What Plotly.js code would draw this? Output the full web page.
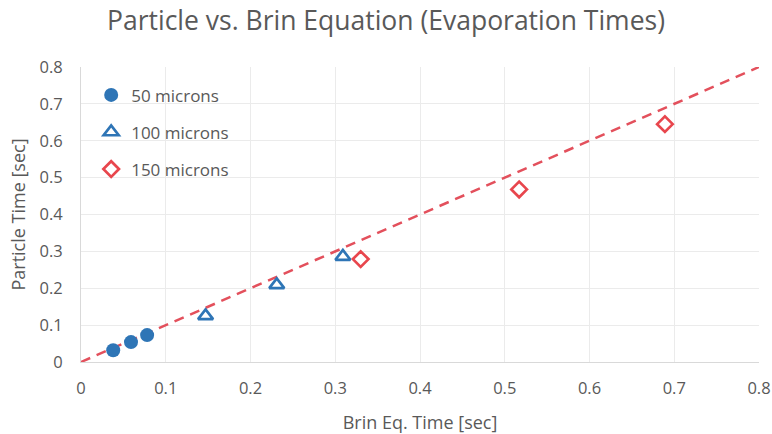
<!DOCTYPE html>
<html>
<head>
<meta charset="utf-8">
<script src="https://cdn.plot.ly/plotly-3.0.1.min.js"></script>
<style>
  html, body { margin: 0; padding: 0; background: #ffffff; }
  #chart { width: 772px; height: 434px; }
</style>
</head>
<body>
<div id="chart"></div>
<script>
// Evaporation times: particle model vs. Brin equation, by droplet size
const brin50 = [0.038, 0.059, 0.078];
const particle50 = [0.032, 0.054, 0.073];

const brin100 = [0.147, 0.231, 0.309];
const particle100 = [0.125, 0.209, 0.286];

const brin150 = [0.330, 0.517, 0.689];
const particle150 = [0.279, 0.468, 0.645];

// 1:1 reference line
const parityX = [0, 0.8];
const parityY = [0, 0.8];

const labels = ["50 microns", "100 microns", "150 microns"];
const axisTicks = [0, 0.1, 0.2, 0.3, 0.4, 0.5, 0.6, 0.7, 0.8];

const textColor = "#595959";
const blue = "#2e75b6";
const red = "#e8464d";
const fontFamily = "Open Sans, sans-serif";

const traces = [
  {
    x: parityX, y: parityY, type: "scatter", mode: "lines",
    line: { color: "#e3505c", width: 2.5, dash: "10px,7px" },
    showlegend: false, hoverinfo: "skip"
  },
  {
    x: brin50, y: particle50, type: "scatter", mode: "markers", name: labels[0],
    legendgroup: "a",
    marker: { symbol: "circle", size: 14, color: blue }
  },
  {
    x: brin100, y: particle100, type: "scatter", mode: "markers", name: labels[1],
    legendgroup: "b",
    marker: { symbol: "triangle-up-open", size: 13, color: blue, line: { color: blue, width: 2.7 } }
  },
  {
    x: brin150, y: particle150, type: "scatter", mode: "markers", name: labels[2],
    legendgroup: "c",
    marker: { symbol: "diamond-open", size: 12, color: red, line: { color: red, width: 2.7 } }
  }
];

const axisCommon = {
  range: [0, 0.8],
  tickvals: axisTicks,
  ticktext: axisTicks.map(v => v === 0 ? "0" : String(v)),
  showgrid: true,
  gridcolor: "#ebebeb",
  gridwidth: 1,
  zeroline: false,
  showline: true,
  linecolor: "#d9d9d9",
  linewidth: 1,
  ticks: "",
  tickfont: { family: fontFamily, size: 16.5, color: textColor },
  fixedrange: true
};

const layout = {
  width: 772,
  height: 434,
  margin: { l: 81, r: 13, t: 67, b: 72 },
  paper_bgcolor: "#ffffff",
  plot_bgcolor: "#ffffff",
  title: {
    text: "Particle vs. Brin Equation (Evaporation Times)",
    font: { family: fontFamily, size: 26.5, color: textColor },
    x: 0.5, xanchor: "center", y: 0.953, yanchor: "middle"
  },
  xaxis: Object.assign({}, axisCommon, {
    title: { text: "Brin Eq. Time [sec]", font: { family: fontFamily, size: 18, color: textColor }, standoff: 18 },
    ticklabelstandoff: 11
  }),
  yaxis: Object.assign({}, axisCommon, {
    title: { text: "Particle Time [sec]", font: { family: fontFamily, size: 18, color: textColor }, standoff: 9 },
    ticklabelstandoff: 14
  }),
  legend: {
    x: 0.015, y: 0.965, xanchor: "left", yanchor: "top",
    bgcolor: "rgba(255,255,255,0)",
    font: { family: fontFamily, size: 17, color: textColor },
    traceorder: "grouped",
    tracegroupgap: 12,
    itemwidth: 30
  },
  showlegend: true
};

Plotly.newPlot("chart", traces, layout, { displayModeBar: false, staticPlot: true });
</script>
</body>
</html>
